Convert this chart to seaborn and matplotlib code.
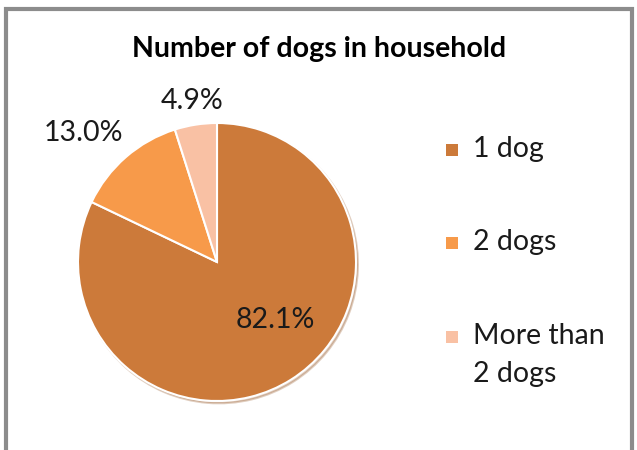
import matplotlib
matplotlib.use("Agg")
import matplotlib.pyplot as plt
from matplotlib.patches import Rectangle
import seaborn as sns

# data ----------------------------------------------------------------
categories = ['1 dog', '2 dogs', 'More than\n2 dogs']
shares = [82.1, 13.0, 4.9]
colors = ['#CC7A3A', '#F79A4A', '#F9C1A4']

sns.set_theme(style="white")
plt.rcParams['font.family'] = ['Lato', 'DejaVu Sans']

fig = plt.figure(figsize=(6.37, 4.5), dpi=100)
fig.patch.set_facecolor('white')

# gray frame (bottom runs off the picture)
fig.patches.append(Rectangle((5.5 / 637, -0.05), 626 / 637, 1 - 8.5 / 450 + 0.05,
                             transform=fig.transFigure, fill=False,
                             edgecolor='#8c8c8c', linewidth=3, zorder=0))

fig.text(319 / 637, 1 - 49 / 450, 'Number of dogs in household',
         ha='center', va='center', fontsize=20.5, fontweight='bold', color='black')

ax = fig.add_axes([78 / 637, (450 - 262 - 139) / 450, 278 / 637, 278 / 450])
wedges, _ = ax.pie(shares, colors=colors, startangle=90, counterclock=False,
                   wedgeprops=dict(edgecolor='white', linewidth=1.5),
                   shadow=dict(ox=0.01, oy=-0.012, shade=0.25, alpha=0.3))
ax.set_xlim(-1, 1)
ax.set_ylim(-1, 1)
ax.set_aspect('equal')

label_pos = [(0.42, -0.42), (-0.96, 0.93), (-0.18, 1.16)]
for v, (x, y) in zip(shares, label_pos):
    ax.text(x, y, f'{v:.1f}%', ha='center', va='center', fontsize=20.5, color='#1a1a1a')

# legend, drawn by hand so the wrapped label hangs below its marker
leg_y = [150, 243, 337]
for name, c, y in zip(categories, colors, leg_y):
    fig.patches.append(Rectangle((446 / 637, 1 - (y + 6) / 450), 12 / 637, 12 / 450,
                                 transform=fig.transFigure, facecolor=c, edgecolor='none'))
    fig.text(473 / 637, 1 - (y - 14) / 450, name, ha='left', va='top',
             fontsize=20.5, color='#1a1a1a', linespacing=1.55)

plt.savefig('out.png', dpi=100)
